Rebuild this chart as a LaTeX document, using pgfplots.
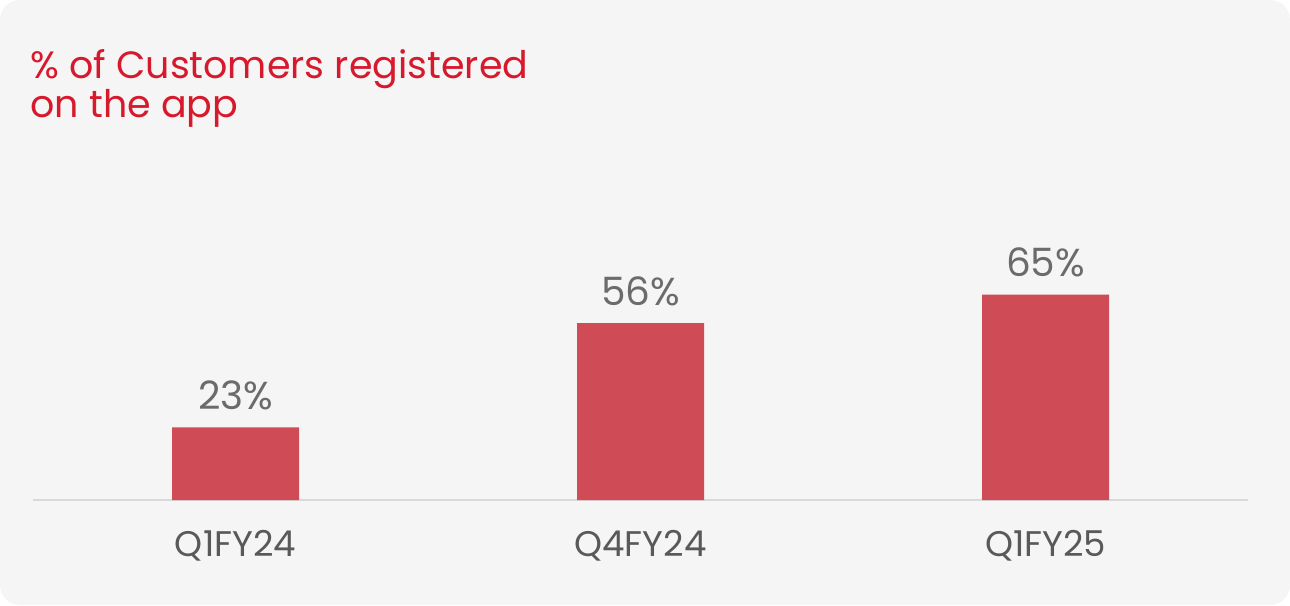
\documentclass[border=0pt]{standalone}
\usepackage{fontspec}
\setmainfont{Poppins}
\usepackage{pgfplots}
\pgfplotsset{compat=1.18}
\definecolor{panel}{HTML}{F5F5F5}
\definecolor{titlered}{HTML}{D7192D}
\definecolor{barred}{HTML}{CF4C56}
\definecolor{valgray}{HTML}{6B6B6B}
\definecolor{tickgray}{HTML}{595959}
\definecolor{axisgray}{HTML}{D9D9D9}

\begin{document}
\begin{tikzpicture}
% panel, 1px = 0.5pt
\fill[white] (0,0) rectangle (645pt,302.5pt);
\fill[panel, rounded corners=10pt] (0,0) rectangle (645pt,302.5pt);

\node[anchor=base west, inner sep=0pt, text=titlered, font=\fontsize{19}{22}\selectfont] at (15pt,263pt) {\% of Customers registered};
\node[anchor=base west, inner sep=0pt, text=titlered, font=\fontsize{19}{22}\selectfont] at (15pt,243.5pt) {on the app};

\begin{axis}[
    at={(16.5pt,52.5pt)}, anchor=south west,
    scale only axis,
    width=607.5pt, height=158pt,
    ybar, bar width=63.5pt,
    xmin=-0.5, xmax=2.5,
    ymin=0, ymax=100,
    axis x line=bottom, axis y line=none,
    x axis line style={axisgray, line width=1pt, -},
    xtick=data,
    xticklabels={Q1FY24, Q4FY24, Q1FY25},
    major tick length=0pt,
    xticklabel style={anchor=base, yshift=-28pt, text=tickgray, font=\fontsize{17.8}{20}\selectfont},
    nodes near coords={\pgfmathprintnumber{\pgfplotspointmeta}\%},
    every node near coord/.append style={anchor=base, yshift=9pt, text=valgray, font=\fontsize{19.5}{22}\selectfont},
    /pgf/number format/assume math mode=true,
]
\addplot[fill=barred, draw=none] coordinates {(0,23) (1,56) (2,65)};
\end{axis}
\end{tikzpicture}
\end{document}
